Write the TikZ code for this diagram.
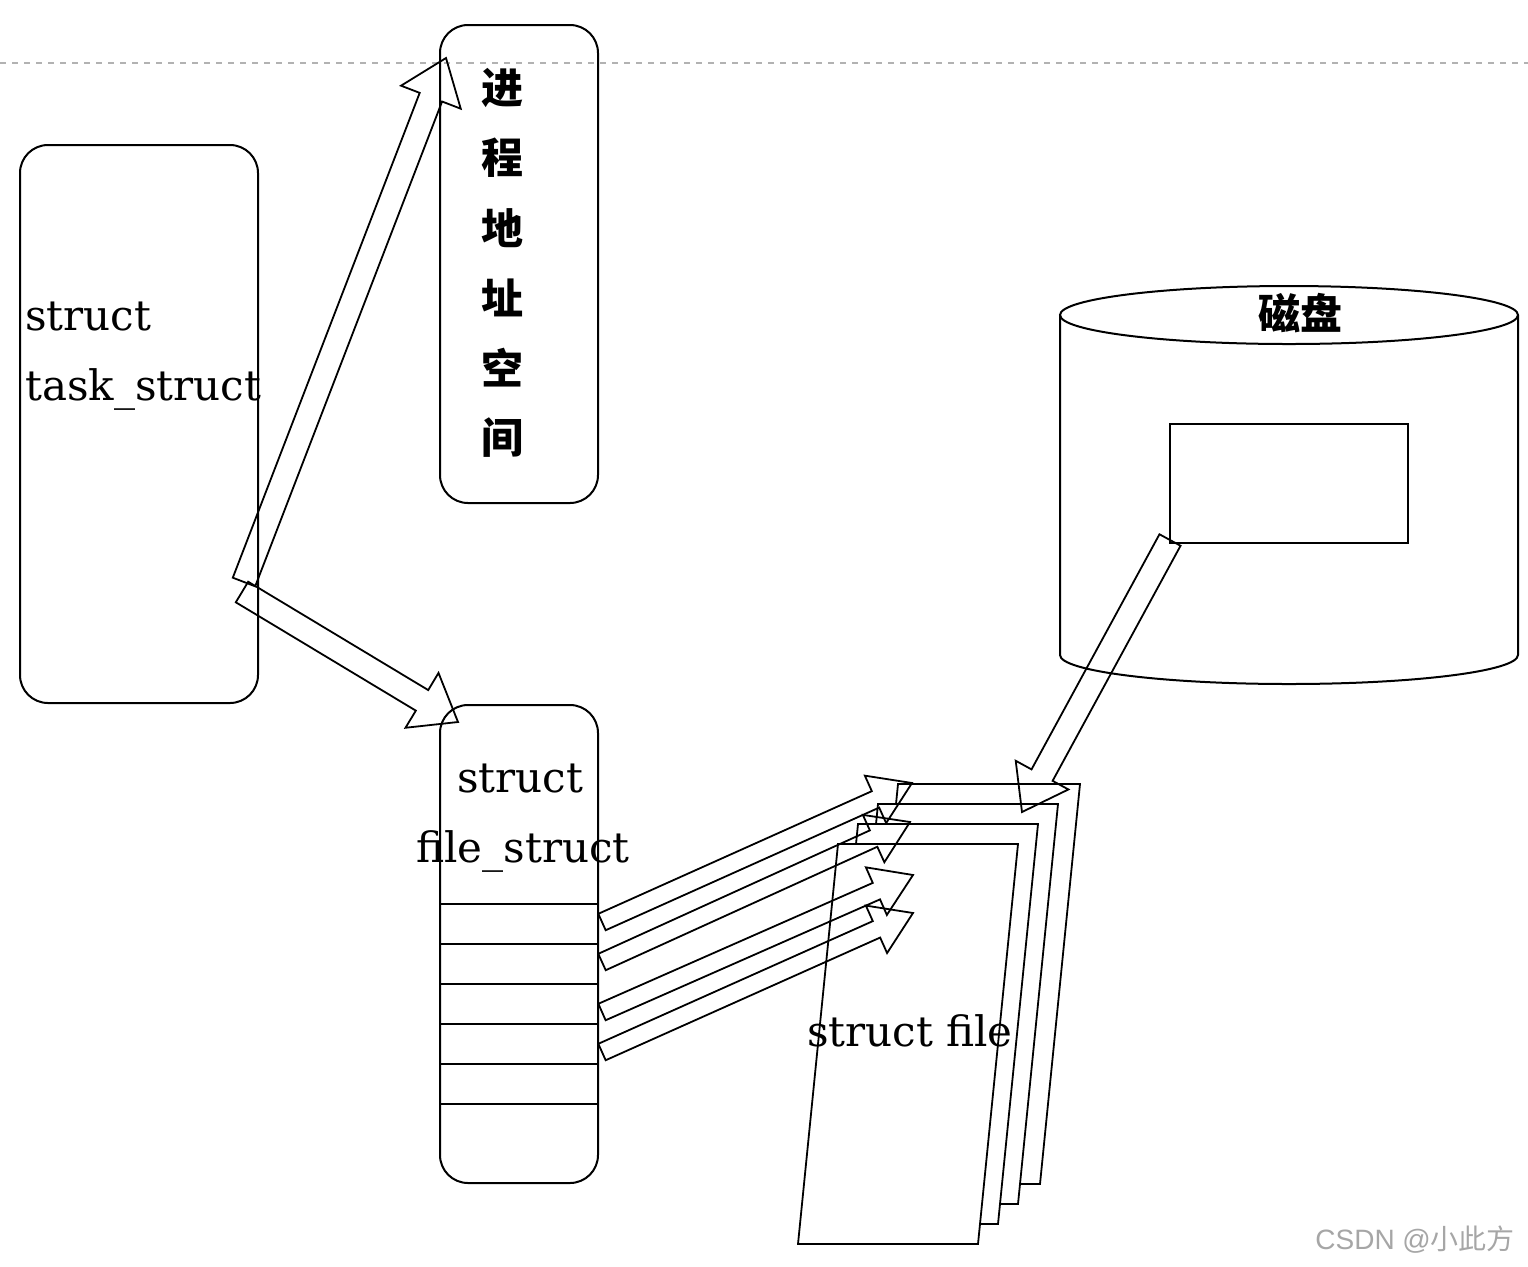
\documentclass[tikz,border=0pt]{standalone}
\usepackage{fontspec}
\setmainfont{DejaVu Serif}
\newfontfamily\cjk{Noto Sans CJK SC}
\newfontfamily\wm{Liberation Sans}
\usetikzlibrary{calc}
\tikzset{
  box/.style={draw,line width=1pt,rounded corners=14pt},
  arr/.style={draw,line width=0.9pt,line join=miter},
  lbl/.style={font=\fontsize{21}{21}\selectfont,inner sep=0pt},
  zh/.style={font=\cjk\bfseries\fontsize{21}{21}\selectfont,inner sep=0pt},
  page/.style={draw,fill=white,line width=0.9pt},
}
\newcommand\blockarrow[5]{%
  \coordinate (hh) at ($(#2)!#5!(#1)$);
  \draw[arr] ($(#1)!#3!90:(#2)$) -- ($(hh)!#3!90:(#2)$) -- ($(hh)!#4!90:(#2)$) -- (#2)
    -- ($(hh)!#4!-90:(#2)$) -- ($(hh)!#3!-90:(#2)$) -- ($(#1)!#3!-90:(#2)$) -- cycle;}
\begin{document}
\begin{tikzpicture}[x=0.5pt,y=-0.5pt]
\useasboundingbox (0,0) rectangle (1528,1266);
\draw[gray!60,dashed,line width=0.8pt] (0,63) -- (1528,63);
% boxes
\draw[box] (20,145) rectangle (258,703);
\node[lbl,anchor=base west] at (25,330) {struct};
\node[lbl,anchor=base west] at (25,400) {task\_struct};
\draw[box] (440,25) rectangle (598,503);
\foreach \c [count=\i] in {进,程,地,址,空,间}
  \node[zh] at (502,88+70*\i-70) {\c};
\draw[box] (440,705) rectangle (598,1183);
\foreach \y in {904,944,984,1024,1064,1104} \draw[line width=1pt] (440,\y) -- (598,\y);
\node[lbl,anchor=base] at (520,792) {struct};
\node[lbl,anchor=base] at (523,862) {file\_struct};
% disk
\draw[line width=1pt,fill=white] (1060,315) -- (1060,655) arc[start angle=180,end angle=0,x radius=229,y radius=29] -- (1518,315);
\draw[line width=1pt] (1289,315) ellipse [x radius=229, y radius=29];
\node[zh] at (1300,313) {磁盘};
\draw[line width=1pt] (1170,424) rectangle (1408,543);
% pages
\draw[page] (898,784) -- (1080,784) -- (1040,1184) -- (858,1184) -- cycle;
\draw[page] (878,804) -- (1058,804) -- (1018,1204) -- (838,1204) -- cycle;
\draw[page] (858,824) -- (1038,824) -- (998,1224) -- (818,1224) -- cycle;
\draw[page] (838,844) -- (1018,844) -- (978,1244) -- (798,1244) -- cycle;
\node[lbl,anchor=base] at (910,1046) {struct file};
% arrows
\coordinate (t1) at (244,582); \coordinate (h1) at (446,58);
\coordinate (t2) at (242,592); \coordinate (h2) at (458,722);
\coordinate (t3) at (1170,540); \coordinate (h3) at (1022,812);
\blockarrow{t1}{h1}{6pt}{16pt}{21pt}
\blockarrow{t2}{h2}{6pt}{16pt}{21pt}
\blockarrow{t3}{h3}{6pt}{15pt}{21pt}
\foreach \ty/\hx/\hy [count=\i] in {922/912/783, 962/910/822, 1012/913/875, 1052/913/913}{
  \coordinate (fa\i) at (602,\ty); \coordinate (fb\i) at (\hx,\hy);
  \blockarrow{fa\i}{fb\i}{4.5pt}{13pt}{20pt}
}
\node[font=\wm\fontsize{14}{14}\selectfont,text=gray!70,anchor=east] at (1522,1240) {CSDN @\cjk 小此方};
\end{tikzpicture}
\end{document}
